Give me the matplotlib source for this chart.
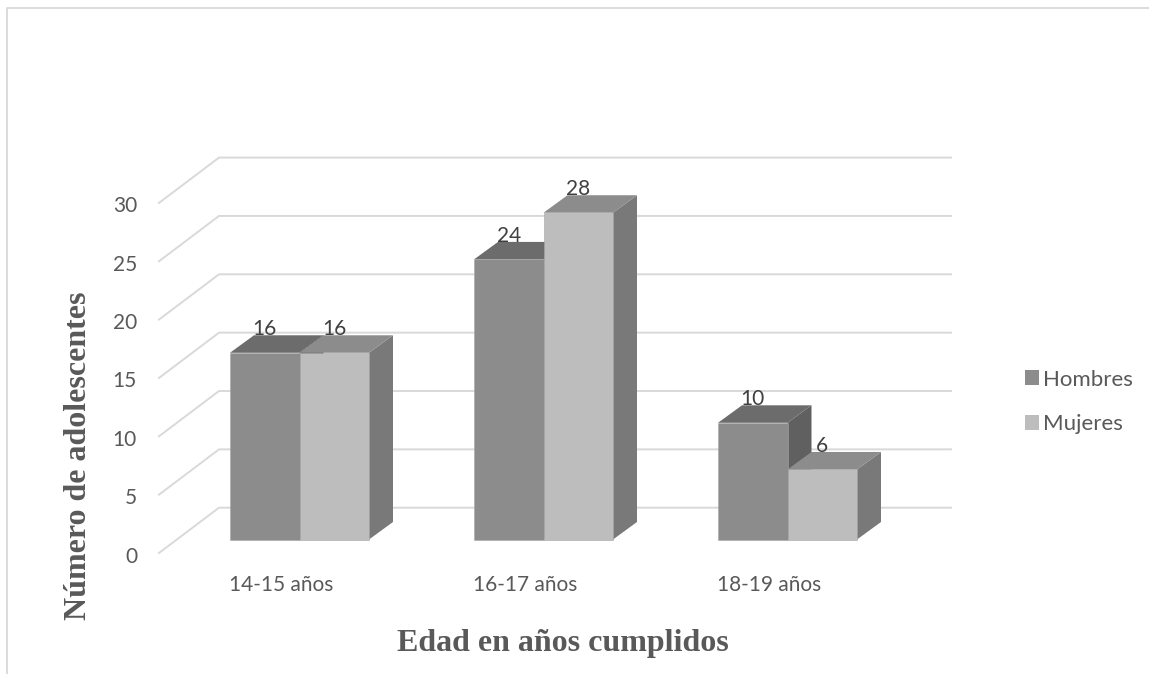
import matplotlib
matplotlib.use('Agg')
import matplotlib.pyplot as plt
import numpy as np
from matplotlib.lines import Line2D
from matplotlib.patches import Patch, Polygon

categories = ['14-15 años', '16-17 años', '18-19 años']
hombres = [16, 24, 10]
mujeres = [16, 28, 6]
yticks = [0, 5, 10, 15, 20, 25, 30]

W, H = 1149, 674
X0, PX_CAT = 299.5, 244.0   # pixel of first group centre, pixels per category
Y0, PX_VAL = 539.5, 11.67   # pixel of value 0 on the bars, pixels per unit

GREY_TXT = '#595959'
GRID = '#d9d9d9'
SANS = 'Lato'
SERIF = 'Liberation Serif'

bar_w = 69.5 / PX_CAT
dep_x = 24 / PX_CAT
dep_y = 17.5 / PX_VAL

fig = plt.figure(figsize=(W / 100, H / 100), dpi=100, facecolor='white')
ax = fig.add_axes([0, 0, 1, 1])
ax.set_xlim(-X0 / PX_CAT, (W - X0) / PX_CAT)
ax.set_ylim(-(H - Y0) / PX_VAL, Y0 / PX_VAL)
ax.axis('off')

# outer frame, open on the right and at the bottom
fig.add_artist(Line2D([7 / W, 7 / W, 1], [0, 1 - 8 / H, 1 - 8 / H], color=GRID, lw=1.3))

# gridlines: side wall then back wall
fx = (159 - X0) / PX_CAT
bx = (219 - X0) / PX_CAT
ex = (951 - X0) / PX_CAT
front_off = -(553 - Y0) / PX_VAL
back_off = (Y0 - 507.7) / PX_VAL
for v in yticks:
    ax.plot([fx, bx, ex], [v + front_off, v + back_off, v + back_off],
            color=GRID, lw=1.4, zorder=1, solid_joinstyle='miter')
    ax.text((137 - X0) / PX_CAT, v + front_off - 0.3, str(v), ha='right', va='center',
            fontsize=15, family=SANS, color=GREY_TXT)


def bar3d(left, val, front, side, top, z):
    right = left + bar_w
    ax.add_patch(Polygon([(right, 0), (right + dep_x, dep_y), (right + dep_x, val + dep_y), (right, val)],
                         fc=side, ec='none', zorder=z))
    ax.add_patch(Polygon([(left, val), (right, val), (right + dep_x, val + dep_y), (left + dep_x, val + dep_y)],
                         fc=top, ec='none', zorder=z))
    ax.add_patch(Polygon([(left, 0), (right, 0), (right, val), (left, val)],
                         fc=front, ec='#a6a6a6', lw=0.4, zorder=z + 0.1))


for i in range(len(categories)):
    bar3d(i - bar_w, hombres[i], '#8c8c8c', '#606060', '#6c6c6c', 2 + i)
    bar3d(i, mujeres[i], '#bdbdbd', '#797979', '#8c8c8c', 2.5 + i)
    ax.text(i - bar_w / 2, hombres[i] + 2.0, str(hombres[i]), ha='center', va='center',
            fontsize=15, family=SANS, color='#404040', zorder=10)
    ax.text(i + bar_w / 2, mujeres[i] + 2.0, str(mujeres[i]), ha='center', va='center',
            fontsize=15, family=SANS, color='#404040', zorder=10)
    ax.text(i - 18 / PX_CAT, -(585 - Y0) / PX_VAL, categories[i], ha='center', va='center',
            fontsize=15, family=SANS, color=GREY_TXT)

ax.text((563 - X0) / PX_CAT, -(643 - Y0) / PX_VAL, 'Edad en años cumplidos', ha='center', va='center',
        fontsize=23, family=SERIF, fontweight='bold', color=GREY_TXT)
ax.text((78 - X0) / PX_CAT, -(456 - Y0) / PX_VAL, 'Número de adolescentes', rotation=90, ha='center', va='center',
        fontsize=23, family=SERIF, fontweight='bold', color=GREY_TXT)

handles = [Patch(fc='#8c8c8c', ec='none', label='Hombres'),
           Patch(fc='#bdbdbd', ec='none', label='Mujeres')]
ax.legend(handles=handles, loc='center left', bbox_to_anchor=(1016 / W, 1 - 402 / H),
          bbox_transform=fig.transFigure, frameon=False, handlelength=0.63, handleheight=0.63,
          handletextpad=0.2, labelspacing=1.12, borderaxespad=0, prop={'family': SANS, 'size': 16},
          labelcolor=GREY_TXT)

fig.savefig('out.png', dpi=100, facecolor='white')
